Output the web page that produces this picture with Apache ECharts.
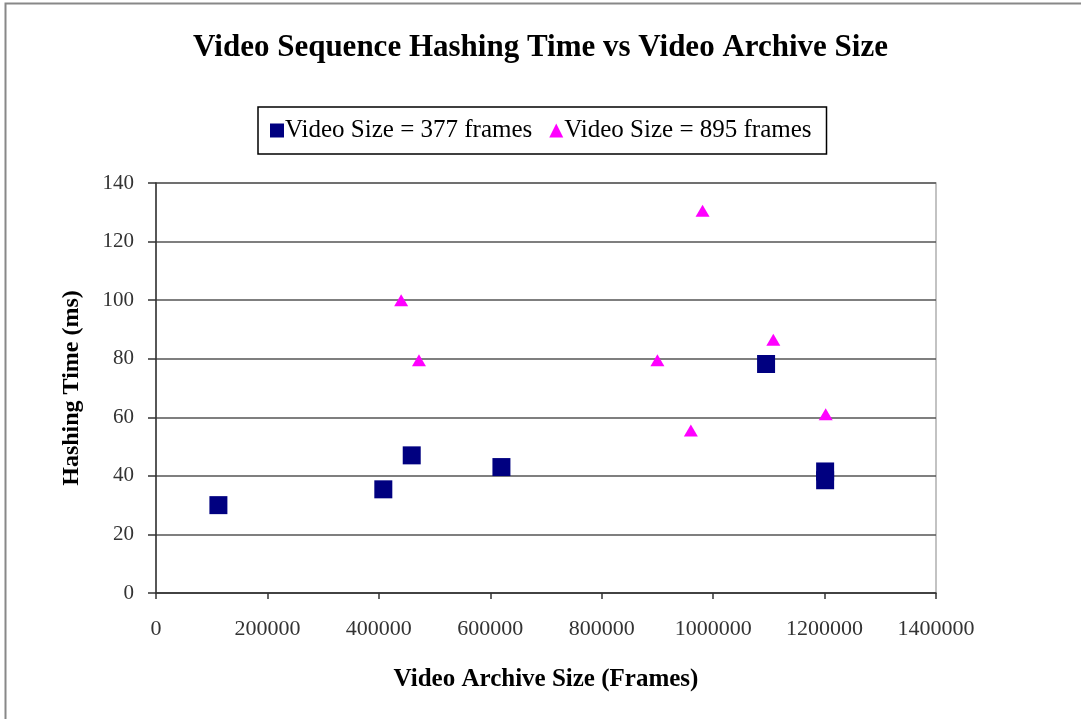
<!DOCTYPE html>
<html><head><meta charset="utf-8">
<script src="https://cdn.jsdelivr.net/npm/echarts@6/dist/echarts.min.js"></script>
<style>html,body{margin:0;padding:0;background:#fff}#c{width:1081px;height:719px}</style>
</head><body><div id="c"></div>
<script>
const titleText = 'Video Sequence Hashing Time vs Video Archive Size';
const seriesNames = ['Video Size = 377 frames', 'Video Size = 895 frames'];
const xTicks = [0, 200000, 400000, 600000, 800000, 1000000, 1200000, 1400000];
const yTicks = [0, 20, 40, 60, 80, 100, 120, 140];
const s377x = [112000, 408000, 459000, 620000, 1095000, 1201000, 1201000];
const s377y = [30, 35.4, 47, 43, 78.2, 41.5, 38.5];
const s895x = [440000, 472000, 900000, 960000, 981000, 1108000, 1202000];
const s895y = [100, 79.5, 79.5, 55.5, 130.5, 86.5, 61];

const serif = '"Liberation Serif", "Times New Roman", serif';
const chart = echarts.init(document.getElementById('c'));
chart.setOption({
  animation: false,
  backgroundColor: '#fff',
  title: {
    text: titleText, left: 'center', top: 27,
    textStyle: { fontFamily: serif, fontWeight: 'bold', fontSize: 31, color: '#000' }
  },
  legend: {
    left: 258, top: 107,
    padding: [11, 15, 11, 12],
    borderColor: '#000', borderWidth: 1.5,
    itemGap: 17, itemWidth: 14, itemHeight: 14,
    textStyle: { fontFamily: serif, fontSize: 25, color: '#000', padding: [0, 0, 0, -4] },
    data: [
      { name: seriesNames[0], icon: 'rect' },
      { name: seriesNames[1], icon: 'triangle' }
    ]
  },
  grid: { left: 156, right: 145, top: 183, bottom: 126, show: true, borderColor: '#b0b0b0', borderWidth: 1.5, backgroundColor: 'transparent' },
  xAxis: {
    type: 'value', min: 0, max: 1400000, interval: 200000,
    name: 'Video Archive Size (Frames)', nameLocation: 'middle', nameGap: 74,
    nameTextStyle: { fontFamily: serif, fontWeight: 'bold', fontSize: 25, color: '#000' },
    axisLine: { show: true, lineStyle: { color: '#333', width: 1.5 } },
    axisTick: { show: true, length: 6, lineStyle: { color: '#333', width: 1.5 } },
    axisLabel: { fontFamily: serif, fontSize: 22, color: '#333', margin: 25,
      formatter: v => String(xTicks.includes(v) ? v : v) },
    splitLine: { show: false }
  },
  yAxis: {
    type: 'value', min: 0, max: 140, interval: 20,
    name: 'Hashing Time (ms)', nameLocation: 'middle', nameGap: 72,
    nameTextStyle: { fontFamily: serif, fontWeight: 'bold', fontSize: 24, color: '#000' },
    axisLine: { show: true, lineStyle: { color: '#333', width: 1.5 } },
    axisTick: { show: true, length: 8, lineStyle: { color: '#333', width: 1.5 } },
    axisLabel: { fontFamily: serif, fontSize: 21, color: '#333', margin: 22,
      formatter: v => String(yTicks.includes(v) ? v : v) },
    splitLine: { show: true, lineStyle: { color: '#555', width: 1.5 } }
  },
  graphic: [
    { type: 'rect', shape: { x: 5.5, y: 3.5, width: 1100, height: 740 }, style: { fill: 'none', stroke: '#888', lineWidth: 2 }, silent: true }
  ],
  series: [
    { name: seriesNames[0], type: 'scatter', symbol: 'rect', symbolSize: 18,
      itemStyle: { color: '#000080', opacity: 1 },
      data: s377x.map((x, i) => [x, s377y[i]]) },
    { name: seriesNames[1], type: 'scatter', symbol: 'triangle', symbolSize: [14, 12],
      itemStyle: { color: '#ff00ff', opacity: 1 },
      data: s895x.map((x, i) => [x, s895y[i]]) }
  ]
});
</script></body></html>
